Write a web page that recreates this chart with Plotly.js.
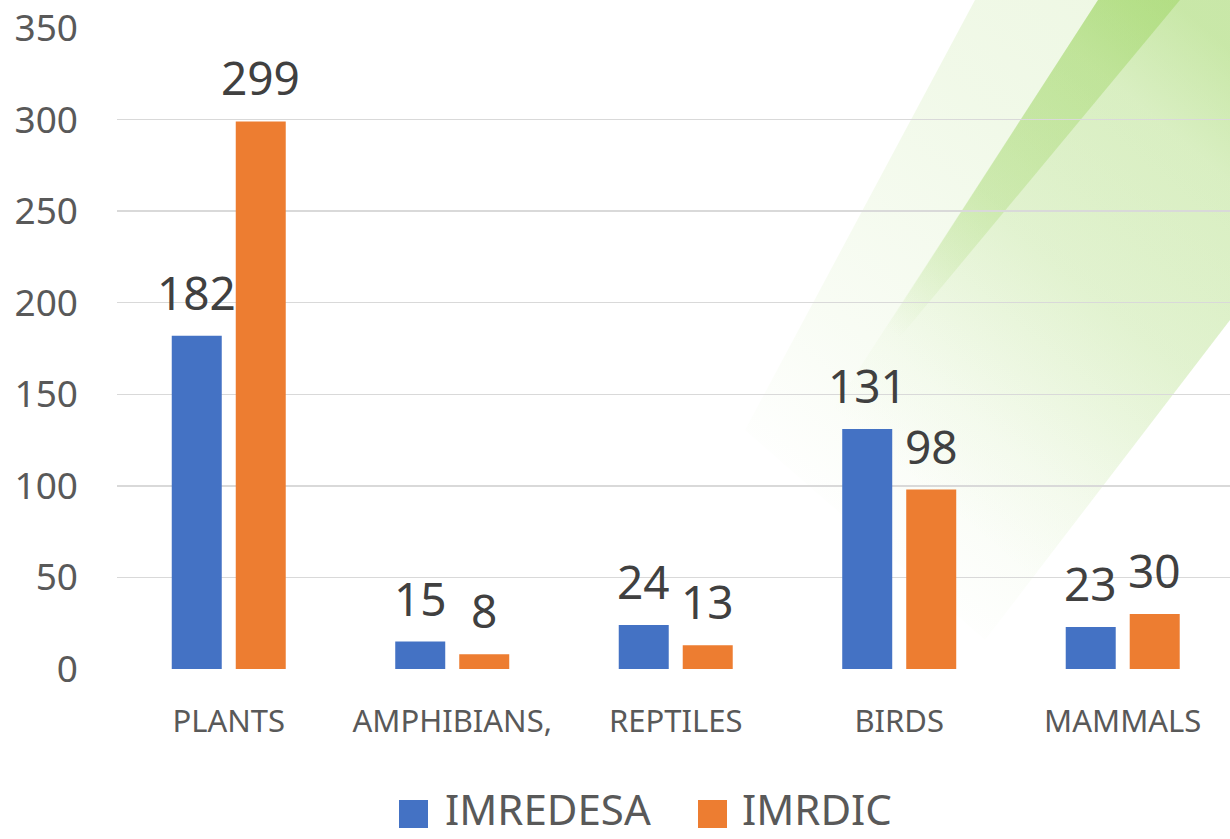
<!DOCTYPE html>
<html><head><meta charset="utf-8">
<script src="https://cdn.plot.ly/plotly-3.0.1.min.js"></script>
<style>html,body{margin:0;padding:0;background:#fff;} #chart{width:1230px;height:839px;}</style>
</head><body><div id="chart"></div>
<script>
// ---- data ----
const categories = ['PLANTS', 'AMPHIBIANS,', 'REPTILES', 'BIRDS', 'MAMMALS'];
const imredesa = [182, 15, 24, 131, 23];
const imrdic = [299, 8, 13, 98, 30];
const seriesNames = ['IMREDESA', 'IMRDIC'];
const yTickVals = [0, 50, 100, 150, 200, 250, 300, 350];

// ---- style ----
const BLUE = '#4472C4', ORANGE = '#ED7D31';
const FONT = 'Noto Sans, Open Sans, sans-serif';
const W = 1230, H = 839;
const M = {l: 117, r: 0, t: 28, b: 170};
const PW = W - M.l - M.r, PH = H - M.t - M.b;
const px = x => (x - M.l) / PW;
const py = y => (H - M.b - y) / PH;

// decorative green diagonal bands (background picture)
function bgSvg() {
  const g = 'rgb(146,208,80)';
  const grad = (id, stops) => `<linearGradient id="${id}" gradientUnits="userSpaceOnUse" x1="800" y1="560" x2="1230" y2="50">` +
    stops.map(s => `<stop offset="${s[0]}" stop-color="${g}" stop-opacity="${s[1]}"/>`).join('') + `</linearGradient>`;
  return `<svg xmlns="http://www.w3.org/2000/svg" width="${W}" height="${H}" viewBox="0 0 ${W} ${H}">
  <defs>
    ${grad('ga', [[0.05, 0], [0.3, 0.06], [0.7, 0.13], [1, 0.16]])}
    ${grad('gb', [[0.2, 0], [0.33, 0.04], [0.59, 0.18], [0.85, 0.24], [1.05, 0.4]])}
    ${grad('gc', [[0.35, 0], [0.5, 0.17], [0.6, 0.25], [0.95, 0.4]])}
  </defs>
  <polygon points="975,0 1230,0 1230,320 985,640 745,430" fill="url(#ga)"/>
  <polygon points="1098,0 1230,0 1230,320 985,640 800,460" fill="url(#gb)"/>
  <polygon points="1098,0 1180,0 812,443" fill="url(#gc)"/>
  </svg>`;
}

const traces = [
  {type: 'bar', name: seriesNames[0], x: categories, y: imredesa, marker: {color: BLUE}, hoverinfo: 'x+y'},
  {type: 'bar', name: seriesNames[1], x: categories, y: imrdic, marker: {color: ORANGE}, hoverinfo: 'x+y'}
];

const annotations = [];
[imredesa, imrdic].forEach((vals, si) => {
  vals.forEach((v, i) => {
    annotations.push({
      x: categories[i], y: v, xref: 'x', yref: 'y', text: String(v), showarrow: false,
      xshift: si === 0 ? -32 : 32, yshift: 11, yanchor: 'bottom', xanchor: 'center',
      font: {family: FONT, size: 46, color: '#404040'}
    });
  });
});

// legend (manual, larger keys)
const shapes = [];
const legendItems = [
  {name: seriesNames[0], color: BLUE, x0: 399, tx: 444},
  {name: seriesNames[1], color: ORANGE, x0: 698, tx: 741}
];
legendItems.forEach(it => {
  shapes.push({type: 'rect', xref: 'paper', yref: 'paper', x0: px(it.x0), x1: px(it.x0 + 29),
    y0: py(828), y1: py(800), fillcolor: it.color, line: {width: 0}});
  annotations.push({xref: 'paper', yref: 'paper', x: px(it.tx), y: py(838), xanchor: 'left', yanchor: 'bottom',
    borderpad: 0, text: it.name, showarrow: false, font: {family: FONT, size: 42, color: '#595959'}});
});

const layout = {
  width: W, height: H, margin: M,
  paper_bgcolor: '#ffffff', plot_bgcolor: 'rgba(0,0,0,0)',
  showlegend: false,
  barmode: 'group', bargap: 0.4273, bargroupgap: 0.21875,
  font: {family: FONT, color: '#595959'},
  xaxis: {type: 'category', range: [-0.5, 4.48], showgrid: false, zeroline: false, showline: false,
    ticks: '', ticklabelstandoff: 31, tickfont: {family: FONT, size: 31, color: '#595959'}, fixedrange: true},
  yaxis: {range: [0, 350], tickvals: yTickVals, showgrid: true, gridcolor: '#d9d9d9', gridwidth: 1.3,
    zeroline: false, showline: false, ticks: '', ticklabelstandoff: 38,
    tickfont: {family: FONT, size: 37, color: '#595959'}, fixedrange: true},
  annotations: annotations,
  shapes: shapes,
  images: [{source: 'data:image/svg+xml;charset=utf-8,' + encodeURIComponent(bgSvg()),
    xref: 'paper', yref: 'paper', x: px(0), y: py(0), sizex: W / PW, sizey: H / PH,
    xanchor: 'left', yanchor: 'top', sizing: 'stretch', layer: 'below'}]
};

Plotly.newPlot('chart', traces, layout, {displayModeBar: false, staticPlot: true});
</script></body></html>
